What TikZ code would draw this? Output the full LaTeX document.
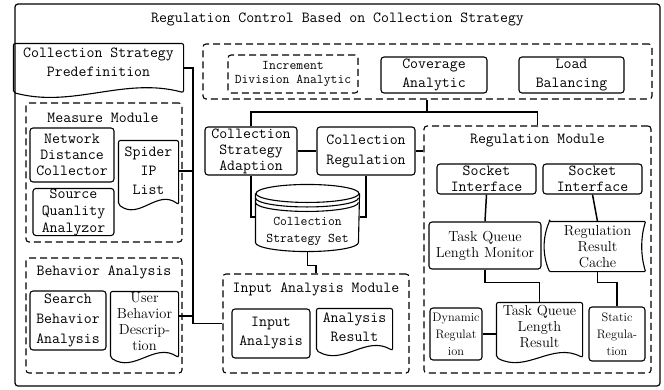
\documentclass[tikz,border=0pt]{standalone}
\usetikzlibrary{calc}

\begin{document}
\begin{tikzpicture}[
    x=1pt, y=-1pt,
    line width=1.1pt,
    every node/.style={inner sep=0pt, align=center, font=\ttfamily\fontsize{15.4}{19}\selectfont},
    box/.style={draw, rounded corners=3pt},
    module/.style={draw, rounded corners=3pt, dash pattern=on 7pt off 4pt},
    wire/.style={line width=1.5pt},
    tightfont/.style={font=\ttfamily\fontsize{15.4}{16}\selectfont},
    widefont/.style={font=\ttfamily\fontsize{15.4}{20}\selectfont},
    smallfont/.style={font=\ttfamily\fontsize{13.3}{14.5}\selectfont},
    narrowfont/.style={font=\rmfamily\fontsize{14.5}{16}\selectfont},
    tinyfont/.style={font=\rmfamily\fontsize{12.3}{17}\selectfont}
]
\useasboundingbox (0,0) rectangle (664,389);

\node[box, line width=1.2pt, minimum width=645pt, minimum height=382pt] (outer) at (337.5,195) {};
\node (title) at (337.5,19) {Regulation Control Based on Collection Strategy};

% left column
\node[minimum width=169pt, minimum height=37pt] (pre) at (98.5,62.5) {Collection Strategy\\Predefinition};

\node[module, minimum width=156pt, minimum height=139pt] (measure) at (104,172.5) {};
\node (measuretitle) at (103,118) {Measure Module};
\node[box, tightfont, minimum width=84pt, minimum height=54pt] (netdist) at (72,155) {Network\\Distance\\Collector};
\node[box, font=\ttfamily\fontsize{15.4}{17}\selectfont, minimum width=81pt, minimum height=46pt] (srcqual) at (73.5,212) {Source\\Quanlity\\Analyzor};
\node[minimum width=59pt, minimum height=60pt] (spider) at (148.5,171) {Spider\\IP\\List};

\node[module, minimum width=156pt, minimum height=115pt] (behav) at (104,315.5) {};
\node (behavtitle) at (104,272) {Behavior Analysis};
\node[box, widefont, minimum width=76pt, minimum height=59pt] (search) at (68,320.5) {Search\\Behavior\\Analysis};
\node[narrowfont, minimum width=67pt, minimum height=60pt] (userdesc) at (144.5,322) {User\\Behavior\\Descrip-\\tion};

% top row
\node[module, minimum width=449pt, minimum height=55pt] (top) at (427.5,71.5) {};
\node[module, smallfont, minimum width=130pt, minimum height=38pt] (incr) at (293,74) {Increment\\Division Analytic};
\node[box, minimum width=106pt, minimum height=36pt] (cover) at (434,75) {Coverage\\Analytic};
\node[box, minimum width=105pt, minimum height=36pt] (load) at (571.5,75) {Load\\Balancing};

% middle
\node[box, tightfont, minimum width=92pt, minimum height=48pt] (adapt) at (251,151) {Collection\\Strategy\\Adaption};
\node[box, widefont, minimum width=98pt, minimum height=48pt] (creg) at (366,151) {Collection\\Regulation};
\node[font=\ttfamily\fontsize{13.3}{17}\selectfont, minimum width=103pt, minimum height=39pt] (cyl) at (307.5,231.5) {Collection\\Strategy Set};

\node[module, minimum width=186pt, minimum height=99pt] (inmod) at (316,323.5) {};
\node (inmodtitle) at (316,289) {Input Analysis Module};
\node[box, minimum width=78pt, minimum height=49pt] (inana) at (271,333.5) {Input\\Analysis};
\node[minimum width=75pt, minimum height=37pt] (anres) at (354.5,327.5) {Analysis\\Result};

% regulation module
\node[module, minimum width=227pt, minimum height=247pt] (regmod) at (537.5,249.5) {};
\node (regtitle) at (537.5,141) {Regulation Module};
\node[box, tightfont, minimum width=99pt, minimum height=30pt] (sockA) at (486.5,179) {Socket\\Interface};
\node[box, tightfont, minimum width=99pt, minimum height=30pt] (sockB) at (592.5,179) {Socket\\Interface};
\node[box, narrowfont, minimum width=112pt, minimum height=47pt] (tqmon) at (485,245.5) {Task Queue\\Length Monitor};
\node[narrowfont, minimum width=95pt, minimum height=49pt] (cache) at (597.5,246.5) {Regulation\\Result\\Cache};
\node[narrowfont, minimum width=85pt, minimum height=48pt] (tqres) at (539.5,327) {Task Queue\\Length\\Result};
\node[box, tinyfont, minimum width=52pt, minimum height=52pt] (dynreg) at (456,334) {Dynamic\\Regulat\\ion};
\node[box, tinyfont, minimum width=56pt, minimum height=54pt] (statreg) at (617,334) {Static\\Regula-\\tion};

% document outlines (wavy bottom)
\foreach \n/\dp in {pre/11, spider/3, userdesc/5, anres/4, tqres/6}
  \draw[rounded corners=2pt] ($(\n.south west)+(0,\dp)$) -- (\n.north west) -- (\n.north east) -- ($(\n.south east)+(0,\dp)$)
    .. controls ($(\n.south east)!0.35!(\n.south west)+(0,\dp-16)$) and ($(\n.south east)!0.65!(\n.south west)+(0,\dp+16)$) .. ($(\n.south west)+(0,\dp)$) -- cycle;

% stored data outline
\draw[rounded corners=1pt] (cache.north west) -- (cache.north east)
  .. controls +(-5,16) and +(-5,-16) .. (cache.south east) -- (cache.south west)
  .. controls +(-7,-16) and +(-7,16) .. (cache.north west) -- cycle;

% cylinder
\draw ($(cyl.north)+(0,-18)$) ellipse [x radius=51.5, y radius=9];
\draw ($(cyl.north west)+(0,-13.5)$) arc [start angle=180, end angle=0, x radius=51.5, y radius=9];
\draw ($(cyl.north west)+(0,-9)$) arc [start angle=180, end angle=0, x radius=51.5, y radius=9];
\draw ($(cyl.north west)+(0,-18)$) -- ($(cyl.south west)+(0,-9)$)
  arc [start angle=180, end angle=0, x radius=51.5, y radius=9] -- ($(cyl.north east)+(0,-18)$);

% connectors
\coordinate (bus) at (193,68);
\coordinate (hub) at (427,112);
\draw[wire] ($(pre.east)+(0,5.5)$) -- (bus) |- (inmod.west);
\draw[wire] (spider.east) -- (spider.east -| bus);
\draw[wire] ($(userdesc.east)+(0,-6)$) -- ($(userdesc.east -| bus)+(0,-6)$);
\draw[wire] (hub |- top.south) -- (hub);
\draw[wire] (adapt.north) |- (hub) -| (regmod.north);
\draw[wire] (adapt.east) -- (creg.west);
\draw[wire] (creg.east) -- (creg.east -| regmod.west);
\draw[wire] (adapt.south) |- ($(cyl.west)+(0,-14.5)$);
\draw[wire] (creg.south) |- ($(cyl.east)+(0,-14.5)$);
\draw[wire] (cyl.south) -- ++(0,14) -| (inmod.north);
\draw[wire] (sockA.south) -- (tqmon.north);
\draw[wire] (sockB.south) -- (cache.north);
\draw[wire] (tqmon.south) -- ++(0,13) -| (tqres.north);
\draw[wire] (cache.south) -- ++(0,11) -| (statreg.north);
\draw[wire] (dynreg.east) -- (dynreg.east -| tqres.west);
\end{tikzpicture}
\end{document}
